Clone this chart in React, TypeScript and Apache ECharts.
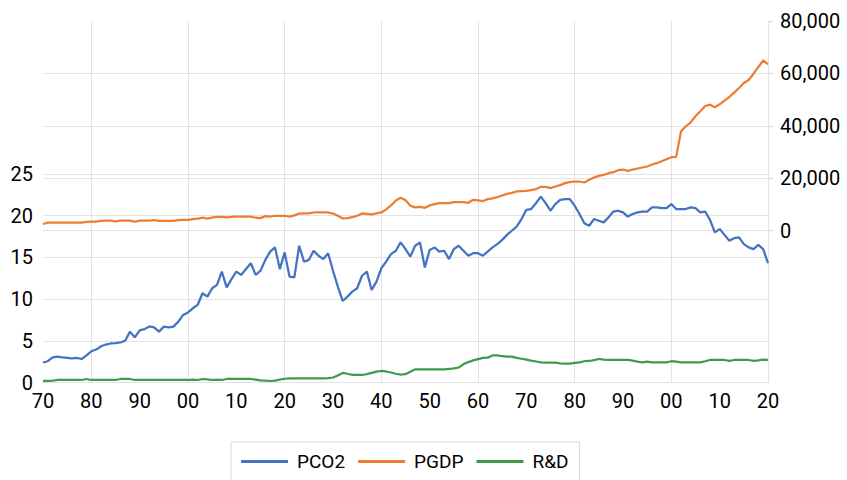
import React, { useEffect, useRef } from "react";
import * as echarts from "echarts";

const years: string[] = Array.from({ length: 151 }, (_, i) => String(1870 + i));

const pco2: number[] = [
  2.4, 2.55, 3.0, 3.1, 3.0, 2.95, 2.88, 2.95, 2.82, 3.25,
  3.75, 3.95, 4.35, 4.55, 4.68, 4.72, 4.8, 5.0, 6.1, 5.4,
  6.25, 6.4, 6.72, 6.6, 6.1, 6.7, 6.6, 6.7, 7.3, 8.1,
  8.4, 8.9, 9.3, 10.7, 10.3, 11.3, 11.7, 13.3, 11.4, 12.4,
  13.3, 12.9, 13.6, 14.3, 12.9, 13.4, 14.7, 15.7, 16.2, 13.6,
  15.6, 12.7, 12.6, 16.4, 14.5, 14.7, 15.8, 15.2, 14.8, 15.5,
  13.4, 11.5, 9.8, 10.3, 10.9, 11.3, 12.8, 13.3, 11.1, 12.1,
  13.7, 14.5, 15.4, 15.8, 16.8, 16.0, 15.1, 16.4, 16.8, 13.8,
  15.9, 16.2, 15.7, 15.8, 14.8, 16.0, 16.4, 15.8, 15.2, 15.5,
  15.5, 15.2, 15.7, 16.2, 16.6, 17.1, 17.7, 18.2, 18.7, 19.6,
  20.7, 20.8, 21.5, 22.3, 21.5, 20.6, 21.4, 21.9, 22.0, 22.0,
  21.2, 20.2, 19.1, 18.8, 19.6, 19.4, 19.2, 19.8, 20.5, 20.6,
  20.4, 19.9, 20.2, 20.4, 20.5, 20.5, 21.0, 21.0, 20.9, 20.9,
  21.4, 20.8, 20.8, 20.8, 21.0, 20.9, 20.4, 20.5, 19.5, 18.0,
  18.4, 17.7, 17.0, 17.3, 17.4, 16.6, 16.2, 16.0, 16.5, 16.0,
  14.3,
];

const pgdp: number[] = [
  2500, 3000, 3000, 3000, 3000, 3000, 3000, 3000, 3000, 3300,
  3400, 3400, 3700, 3800, 3800, 3500, 3800, 3800, 3800, 3400,
  3800, 3800, 3800, 4000, 3700, 3700, 3700, 3700, 4000, 4100,
  4100, 4400, 4600, 4900, 4600, 4900, 5200, 5200, 5000, 5250,
  5300, 5300, 5300, 5300, 4900, 4750, 5500, 5300, 5650, 5650,
  5650, 5300, 5800, 6500, 6550, 6550, 6900, 6900, 6900, 6900,
  6500, 5650, 4640, 4760, 5140, 5650, 6540, 6410, 6160, 6540,
  6920, 8070, 9590, 11500, 12510, 11620, 9460, 8830, 9080, 8700,
  9590, 10100, 10480, 10480, 10480, 10860, 10860, 10860, 10600, 11750,
  11500, 11240, 12000, 12260, 12760, 13400, 14030, 14410, 14920, 15050,
  15180, 15430, 15810, 16700, 16700, 16190, 16830, 17340, 18100, 18480,
  18730, 18730, 18350, 19370, 20260, 20890, 21270, 21900, 22290, 23050,
  23300, 22800, 23300, 23690, 24070, 24450, 25210, 25720, 26480, 27240,
  28000, 28130, 37900, 39810, 41340, 43620, 45530, 47560, 48070, 47050,
  48200, 49590, 50990, 52640, 54420, 56320, 57470, 59880, 62420, 64960,
  63440,
];

const rd: number[] = [
  0.2, 0.2, 0.22, 0.3, 0.3, 0.3, 0.3, 0.3, 0.3, 0.42,
  0.3, 0.3, 0.3, 0.3, 0.3, 0.3, 0.42, 0.42, 0.42, 0.3,
  0.3, 0.3, 0.3, 0.3, 0.3, 0.3, 0.3, 0.3, 0.3, 0.3,
  0.3, 0.35, 0.3, 0.42, 0.38, 0.3, 0.3, 0.3, 0.42, 0.42,
  0.42, 0.42, 0.42, 0.42, 0.35, 0.25, 0.22, 0.18, 0.22, 0.35,
  0.45, 0.5, 0.5, 0.5, 0.5, 0.5, 0.5, 0.5, 0.5, 0.52,
  0.6, 0.85, 1.15, 1.05, 0.92, 0.9, 0.9, 1.0, 1.15, 1.3,
  1.38, 1.32, 1.2, 1.05, 0.95, 1.0, 1.3, 1.58, 1.58, 1.58,
  1.58, 1.58, 1.58, 1.58, 1.62, 1.7, 1.8, 2.2, 2.45, 2.65,
  2.8, 2.95, 2.98, 3.25, 3.26, 3.15, 3.1, 3.1, 2.95, 2.85,
  2.75, 2.62, 2.52, 2.42, 2.38, 2.38, 2.38, 2.3, 2.26, 2.26,
  2.35, 2.42, 2.55, 2.58, 2.68, 2.82, 2.75, 2.7, 2.7, 2.7,
  2.7, 2.7, 2.62, 2.5, 2.42, 2.5, 2.42, 2.42, 2.42, 2.42,
  2.55, 2.5, 2.42, 2.42, 2.42, 2.42, 2.42, 2.55, 2.7, 2.7,
  2.7, 2.7, 2.6, 2.7, 2.7, 2.7, 2.7, 2.6, 2.65, 2.75,
  2.7,
];

const leftTicks: number[] = [0, 5, 10, 15, 20, 25];
const rightTicks: number[] = [0, 20000, 40000, 60000, 80000];
const rightGrid: number[] = [0, 20000, 40000, 60000];

const FONT = "Roboto, 'Noto Sans', sans-serif";
const GRID_COLOR = "#e3e3e3";

const gridMarkLine = (vals: number[]) => ({
  silent: true,
  symbol: ["none", "none"],
  label: { show: false },
  z: 1,
  animation: false,
  lineStyle: { color: GRID_COLOR, type: "solid", width: 1 },
  data: vals.map((v) => ({ yAxis: v })),
});

export default function App() {
  const ref = useRef<HTMLDivElement>(null);

  useEffect(() => {
    if (!ref.current) return;
    const chart = echarts.init(ref.current, null, { renderer: "svg" });
    chart.setOption({
      animation: false,
      backgroundColor: "#ffffff",
      textStyle: { fontFamily: FONT },
      grid: { left: 43, right: 79, top: 21, bottom: 97.5, containLabel: false },
      legend: {
        top: 442,
        left: 231,
        orient: "horizontal",
        borderColor: "#d9d9d9",
        borderWidth: 1,
        padding: [10, 11, 12, 10],
        icon: "rect",
        itemWidth: 47,
        itemHeight: 3,
        itemGap: 13,
        textStyle: { fontSize: 19, color: "#000", fontFamily: FONT, padding: [0, 0, 0, 4] },
        data: ["PCO2", "PGDP", "R&D"],
      },
      xAxis: {
        type: "category",
        data: years,
        boundaryGap: false,
        axisLine: { show: true, lineStyle: { color: "#e0e0e0" } },
        axisTick: { show: false },
        axisLabel: {
          interval: (i: number) => i % 10 === 0,
          formatter: (v: string) => v.slice(2),
          fontSize: 20,
          color: "#000",
          margin: 8,
          fontFamily: FONT,
        },
        splitLine: {
          show: true,
          interval: (i: number) => i % 20 === 10,
          lineStyle: { color: GRID_COLOR, width: 1 },
        },
      },
      yAxis: [
        {
          type: "value",
          position: "left",
          min: 0,
          max: 43.35,
          axisLine: { show: false },
          axisTick: { show: false },
          splitLine: { show: false },
          axisLabel: {
            customValues: leftTicks,
            fontSize: 20,
            color: "#000",
            margin: 10,
            fontFamily: FONT,
          },
        },
        {
          type: "value",
          position: "right",
          min: -58000,
          max: 80000,
          axisLine: { show: false },
          axisTick: {
            show: true,
            customValues: rightTicks,
            length: 5,
            lineStyle: { color: "#d9d9d9" },
          },
          splitLine: { show: false },
          axisLabel: {
            customValues: rightTicks,
            formatter: (v: number) => v.toLocaleString("en-US"),
            fontSize: 20,
            color: "#000",
            margin: 12,
            fontFamily: FONT,
          },
        },
      ],
      series: [
        {
          name: "PCO2",
          type: "line",
          yAxisIndex: 0,
          data: pco2,
          symbol: "none",
          color: "#4472C4",
          lineStyle: { width: 2.25, color: "#4472C4" },
          z: 4,
          markLine: gridMarkLine(leftTicks),
        },
        {
          name: "PGDP",
          type: "line",
          yAxisIndex: 1,
          data: pgdp,
          symbol: "none",
          color: "#ED7D31",
          lineStyle: { width: 2.25, color: "#ED7D31" },
          z: 3,
          markLine: gridMarkLine(rightGrid),
        },
        {
          name: "R&D",
          type: "line",
          yAxisIndex: 0,
          data: rd,
          symbol: "none",
          color: "#3f9b4a",
          lineStyle: { width: 2.25, color: "#3f9b4a" },
          z: 3,
        },
      ],
    });
    return () => chart.dispose();
  }, []);

  return (
    <div
      ref={ref}
      style={{ position: "fixed", left: 0, top: 0, width: 847, height: 480 }}
    />
  );
}
